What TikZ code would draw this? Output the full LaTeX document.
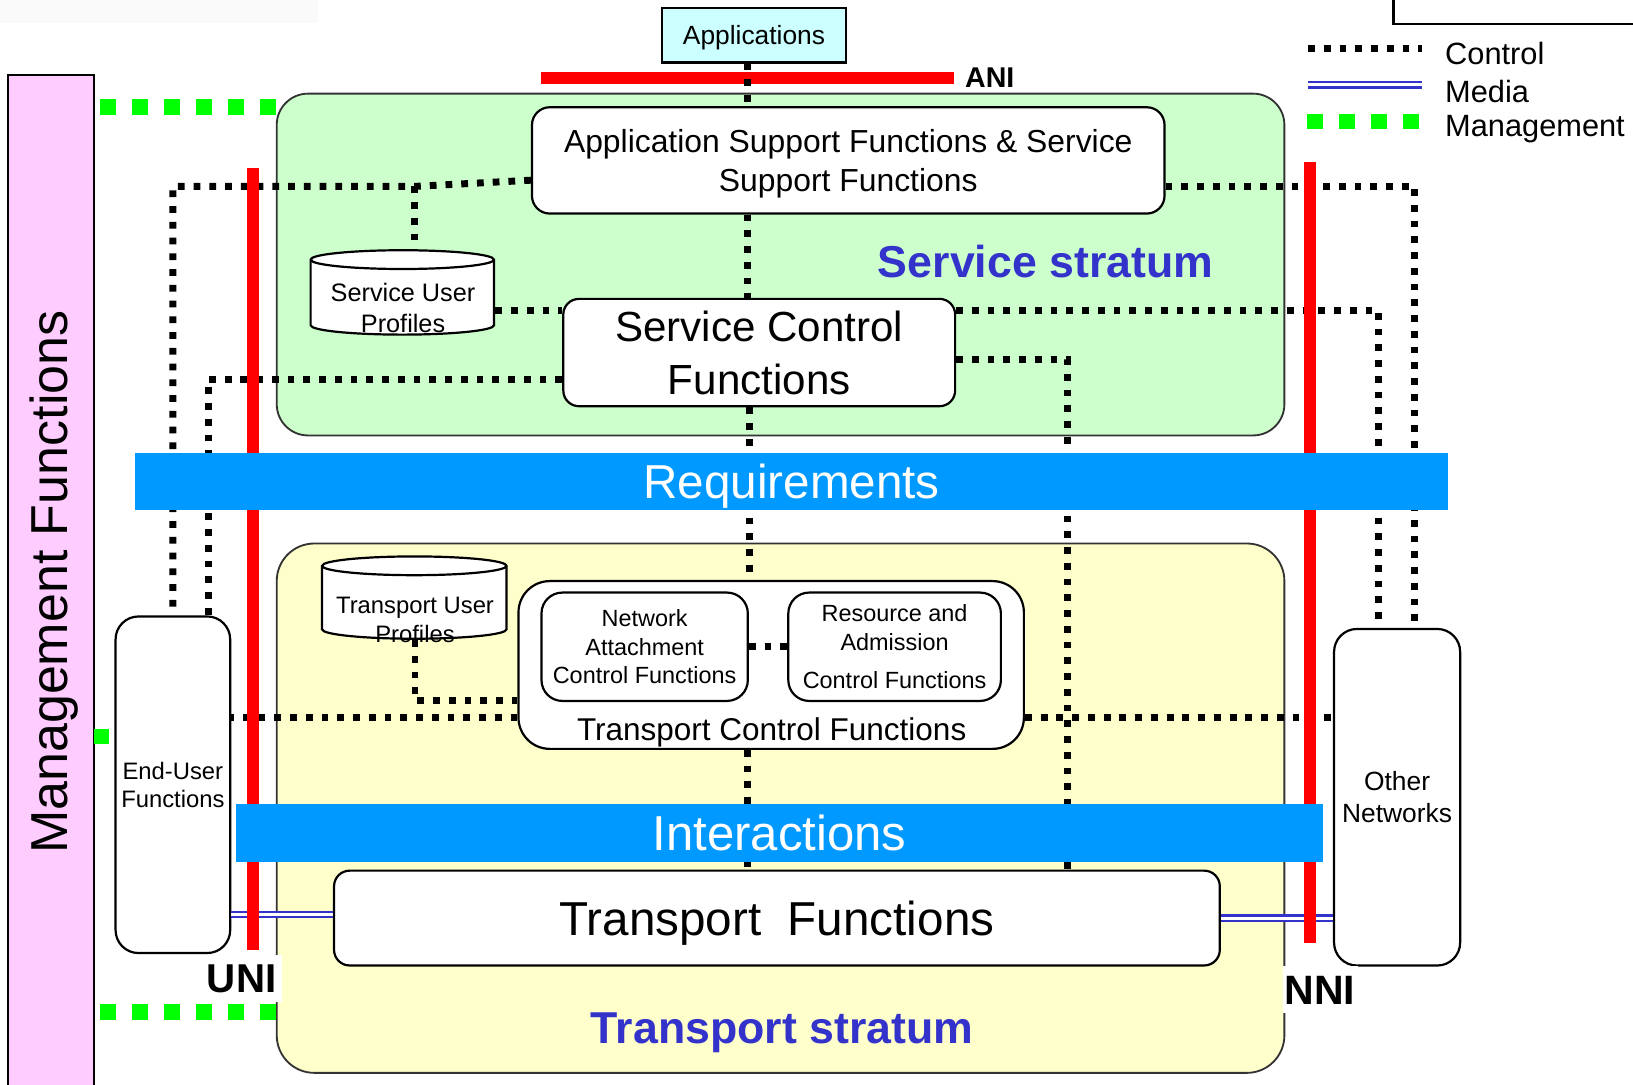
\documentclass[tikz,border=0pt]{standalone}
\usepackage{fontspec}
\setmainfont{Liberation Sans}
\definecolor{svcgreen}{HTML}{CCFFCC}
\definecolor{trnyellow}{HTML}{FFFFCC}
\definecolor{mgmtpink}{HTML}{FFCCFF}
\definecolor{appcyan}{HTML}{CCFFFF}
\definecolor{bandblue}{HTML}{0099FF}
\definecolor{stratblue}{HTML}{3333CC}
\definecolor{mgmtgreen}{HTML}{00FF00}
\newcommand{\fsz}[2]{\fontsize{#1}{#2}\selectfont}

\begin{document}
\begin{tikzpicture}[x=0.01cm,y=-0.01cm]
\tikzstyle{fbox}=[draw, fill=white, line width=0.6pt, inner sep=0pt, align=center]
\tikzstyle{stratum}=[draw=black!80, line width=0.5pt, inner sep=0pt]
\tikzstyle{ctrl}=[line width=1.9pt, dash pattern=on 1.85pt off 2.45pt]
\tikzstyle{media}=[draw=stratblue, double=white, double distance=0.8pt, line width=0.6pt]
\tikzstyle{mgmt}=[line width=4.27pt, draw=mgmtgreen, dash pattern=on 4.27pt off 4.47pt]
\tikzstyle{iface}=[line width=3.3pt, draw=red]
\tikzstyle{band}=[fill=bandblue, text=white, inner sep=0pt, text depth=0pt]
\useasboundingbox (0,0) rectangle (1568,1041);

% page remnants
\fill[black!2] (0,0) rectangle (305,22);
\draw[line width=0.6pt] (1338,-10) -- (1338,23) -- (1600,23);

% strata
\node[stratum, fill=svcgreen, rounded corners=0.3cm,
      minimum width=9.67cm, minimum height=3.28cm] (svcst) at (749.5,254) {};
\node[stratum, fill=trnyellow, rounded corners=0.36cm,
      minimum width=9.67cm, minimum height=5.08cm] (trnst) at (749.5,776) {};
\node[anchor=base, text=stratblue, font=\bfseries\fsz{12.2}{14}] (svclabel)
      at (1004,266) {Service stratum};
\node[anchor=base, text=stratblue, font=\bfseries\fsz{12.2}{14}] (trnlabel)
      at (751,1002) {Transport stratum};

% management functions
\node[draw, fill=mgmtpink, line width=0.55pt, inner sep=0pt,
      minimum width=0.82cm, minimum height=10cm] (mf) at (49,572) {};
\node[rotate=90, font=\fsz{14.2}{17}] (mftext) at (52,559) {Management Functions};

% applications and ANI
\node[fbox, fill=appcyan, minimum width=1.76cm, minimum height=0.52cm,
      text depth=0pt, font=\fsz{7.2}{9}] (apps) at (724,34) {Applications};
\draw[iface] (519,75) -- (916,75)
      node[anchor=west, inner sep=0pt, xshift=0.05cm, font=\bfseries\fsz{7.8}{9}] (ani) {ANI};

% service stratum functions
\node[fbox, rounded corners=0.17cm, minimum width=6.07cm, minimum height=1.02cm,
      text depth=0pt, font=\fsz{8.7}{10.5}] (asf) at (814.5,154)
      {Application Support Functions \& Service\\Support Functions};
\node[fbox, rounded corners=0.15cm, minimum width=3.76cm, minimum height=1.03cm,
      font=\fsz{11.5}{14.5}] (scf) at (729,338.5) {Service Control\\Functions};
\node[minimum width=1.76cm, minimum height=0.81cm, inner sep=0pt] (sup) at (387,281.5) {};
\draw[fill=white, line width=0.6pt] (sup.north west) ++(0,9) -- ++(0,63)
      arc[start angle=180, end angle=360, x radius=0.88cm, y radius=0.09cm] -- ++(0,-63)
      arc[start angle=0, end angle=180, x radius=0.88cm, y radius=0.09cm] -- cycle;
\draw[line width=0.6pt] (sup.north west) ++(0,9)
      arc[start angle=180, end angle=360, x radius=0.88cm, y radius=0.09cm];
\node[align=center, font=\fsz{6.9}{8.5}] (suptext) at (387,296) {Service User\\Profiles};

% transport stratum functions
\node[minimum width=1.77cm, minimum height=0.79cm, inner sep=0pt] (tup) at (398.5,574.5) {};
\draw[fill=white, line width=0.6pt] (tup.north west) ++(0,9) -- ++(0,61)
      arc[start angle=180, end angle=360, x radius=0.885cm, y radius=0.09cm] -- ++(0,-61)
      arc[start angle=0, end angle=180, x radius=0.885cm, y radius=0.09cm] -- cycle;
\draw[line width=0.6pt] (tup.north west) ++(0,9)
      arc[start angle=180, end angle=360, x radius=0.885cm, y radius=0.09cm];
\node[align=center, font=\fsz{6.5}{8}] (tuptext) at (398.5,595) {Transport User\\Profiles};

\node[fbox, rounded corners=0.3cm, minimum width=4.85cm, minimum height=1.61cm]
      (tcf) at (740.5,638.5) {};
\node[font=\fsz{8.6}{10}] (tcftext) at (741,703) {Transport Control Functions};
\node[fbox, rounded corners=0.2cm, minimum width=1.98cm, minimum height=1.04cm,
      font=\fsz{6.4}{7.8}] (nacf) at (619,621) {Network\\Attachment\\Control Functions};
\node[fbox, rounded corners=0.2cm, minimum width=2.04cm, minimum height=1.04cm,
      font=\fsz{6.4}{7.8}] (racf) at (859,621) {Resource and\\Admission\\[2.5pt]Control Functions};
\node[fbox, rounded corners=0.15cm, minimum width=8.5cm, minimum height=0.91cm,
      text depth=0pt, font=\fsz{13}{15}] (tf) at (746,881.5) {Transport\ \ Functions};

% end user and other networks
\node[fbox, rounded corners=0.22cm, minimum width=1.1cm, minimum height=3.23cm,
      font=\fsz{6.5}{7.7}] (eu) at (166,753.5) {End-User\\Functions};
\node[fbox, rounded corners=0.22cm, minimum width=1.21cm, minimum height=3.23cm,
      font=\fsz{7.2}{8.8}] (on) at (1341.5,765.5) {Other\\Networks};

% control
\coordinate (j1) at (398,179);
\draw[ctrl] ([xshift=-0.06cm]apps.south) coordinate (s0) -- (s0 |- asf.north);
\draw[ctrl] ([xshift=-0.965cm]asf.south) coordinate (s3) -- (s3 |- scf.north);
\draw[ctrl] ([xshift=-0.09cm]scf.south) coordinate (s2) -- (s2 |- tcf.north);
\draw[ctrl] ([xshift=-0.225cm]tcf.south) coordinate (s4) -- (s4 |- tf.north);
\draw[ctrl] ([yshift=-0.19cm]asf.west) -- (j1) -| (eu.north);
\draw[ctrl] (j1) -- (j1 |- sup.north);
\draw[ctrl] ([yshift=-0.25cm]asf.east) -| ([xshift=0.17cm]on.north);
\draw[ctrl] ([yshift=0.405cm]scf.east) -| ([xshift=-0.175cm]on.north);
\draw[ctrl] ([yshift=-0.065cm]scf.east) -| ([xshift=2.79cm]tf.north);
\draw[ctrl] ([yshift=-0.255cm]scf.west) -| ([xshift=0.34cm]eu.north);
\draw[ctrl] ([yshift=-0.165cm]sup.east) coordinate (s1) -- (s1 -| scf.west);
\draw[ctrl] (tup.south) |- ([yshift=-0.345cm]tcf.west);
\draw[ctrl] ([yshift=-0.505cm]tcf.west) coordinate (t1) -- (t1 -| eu.east);
\draw[ctrl] ([yshift=-0.505cm]tcf.east) coordinate (t2) -- (t2 -| on.west);
\draw[ctrl] (nacf.east) -- (racf.west);

% media
\draw[media] ([yshift=0.035cm]tf.west) coordinate (m1) -- (m1 -| eu.east);
\draw[media] (tf.east) -- (tf.east -| on.west);

% management
\coordinate (g1) at (96,103);
\coordinate (g2) at (96,972);
\coordinate (g3) at (90,707);
\draw[mgmt] (g1) -- (g1 -| svcst.west);
\draw[mgmt] (g2) -- (g2 -| trnst.west);
\draw[mgmt] (g3) -- (g3 -| eu.west);

% UNI and NNI
\draw[iface] (243,161) -- (243,912);
\draw[iface] (1258,156) -- (1258,905);

% bands
\node[band, minimum width=12.6cm, minimum height=0.55cm, font=\fsz{13}{15}]
      (req) at (760,462.5) {Requirements};
\node[band, minimum width=10.43cm, minimum height=0.56cm, font=\fsz{13.4}{15}]
      (intr) at (748.5,800) {Interactions};

\node[fill=white, inner sep=0pt, minimum width=0.77cm, minimum height=0.45cm,
      font=\bfseries\fsz{11}{12}] (uni) at (232,939.5) {UNI};
\node[fill=white, inner sep=0pt, minimum width=0.72cm, minimum height=0.45cm,
      font=\bfseries\fsz{11.2}{12}] (nni) at (1267.5,950.5) {NNI};

% legend
\draw[ctrl] (1256,47) -- (1365,47);
\draw[media] (1256,81.5) -- (1365,81.5);
\draw[mgmt] (1255,116.5) -- (1363,116.5);
\node[anchor=base west, inner sep=0pt, font=\fsz{8.4}{10}] (lgctrl) at (1387,62) {Control};
\node[anchor=base west, inner sep=0pt, font=\fsz{8.4}{10}] (lgmedia) at (1387,98) {Media};
\node[anchor=base west, inner sep=0pt, font=\fsz{8.4}{10}] (lgmgmt) at (1387,131) {Management};
\end{tikzpicture}
\end{document}
